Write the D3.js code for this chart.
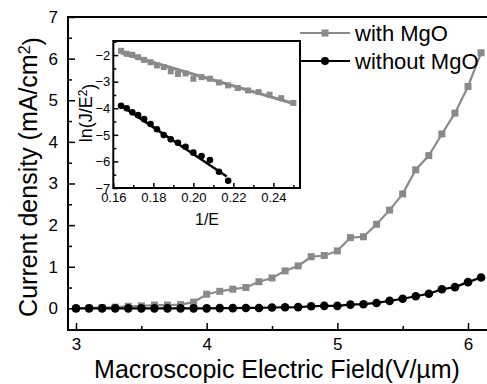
<!DOCTYPE html>
<html>
<head>
<meta charset="utf-8">
<script src="https://cdn.jsdelivr.net/npm/d3@7"></script>
<style>
  body { margin: 0; background: #fff; }
  svg { display: block; font-family: "Liberation Sans", Arial, sans-serif; }
  .axis .domain { display: none; }
  .axis line { stroke: #000; stroke-width: 1.5; }
  .axis text { fill: #000; }
</style>
</head>
<body>
<div id="chart"></div>
<script>
// main plot: current density vs field
const fieldE = [3.0, 3.1, 3.2, 3.3, 3.4, 3.5, 3.6, 3.7, 3.8, 3.9,
                4.0, 4.1, 4.2, 4.3, 4.4, 4.5, 4.6, 4.7, 4.8, 4.9,
                5.0, 5.1, 5.2, 5.3, 5.4, 5.5, 5.6, 5.7, 5.8, 5.9,
                6.0, 6.1];
const withMgO = [0.00, 0.01, 0.02, 0.03, 0.05, 0.06, 0.08, 0.08, 0.09, 0.15,
                 0.34, 0.41, 0.46, 0.50, 0.64, 0.73, 0.90, 1.02, 1.24, 1.27,
                 1.38, 1.70, 1.72, 2.02, 2.36, 2.75, 3.33, 3.67, 4.19, 4.69,
                 5.33, 6.14];
const withoutMgO = [0.00, 0.00, 0.00, 0.00, 0.00, 0.00, 0.00, 0.00, 0.00, 0.00,
                    0.00, 0.005, 0.005, 0.01, 0.01, 0.02, 0.025, 0.03, 0.05, 0.06,
                    0.06, 0.09, 0.10, 0.13, 0.18, 0.23, 0.29, 0.35, 0.46, 0.51,
                    0.63, 0.74];
const mainXTicks = [3, 4, 5, 6];
const mainXMinor = [3.5, 4.5, 5.5];
const mainYTicks = [0, 1, 2, 3, 4, 5, 6, 7];
const mainYMinor = [0.5, 1.5, 2.5, 3.5, 4.5, 5.5, 6.5];

// inset: F-N plot
const invEWith = [0.1639, 0.1667, 0.1695, 0.1724, 0.1754, 0.1786, 0.1818, 0.1852,
                  0.1887, 0.1923, 0.1961, 0.2000, 0.2041, 0.2083, 0.2128, 0.2174,
                  0.2222, 0.2273, 0.2326, 0.2381, 0.2439, 0.2500];
const lnWith = [-1.84, -1.95, -1.99, -2.08, -2.18, -2.27, -2.39, -2.45,
                -2.61, -2.71, -2.69, -2.89, -2.83, -2.89, -3.03, -3.14,
                -3.24, -3.33, -3.39, -3.49, -3.62, -3.80];
const invEWithout = [0.1639, 0.1667, 0.1695, 0.1724, 0.1754, 0.1786, 0.1818, 0.1852,
                     0.1887, 0.1923, 0.1961, 0.2000, 0.2041, 0.2083, 0.2128, 0.2174];
const lnWithout = [-3.91, -4.00, -4.15, -4.26, -4.41, -4.59, -4.79, -5.01,
                   -5.17, -5.30, -5.45, -5.67, -5.80, -5.95, -6.39, -6.73];
const fitWith = [[0.1639, -1.92], [0.2500, -3.82]];
const fitWithout = [[0.1639, -3.90], [0.2167, -6.57]];
const insetXTicks = [0.16, 0.18, 0.20, 0.22, 0.24];
const insetXMinor = [0.17, 0.19, 0.21, 0.23, 0.25];
const insetYTicks = [-7, -6, -5, -4, -3, -2];
const insetYMinor = [-6.5, -5.5, -4.5, -3.5, -2.5, -1.5];

const seriesNames = ["with MgO", "without MgO"];
const gray = "#8a8a8a";

const W = 487, H = 384;
const svg = d3.select("#chart").append("svg")
    .attr("width", W).attr("height", H);

// ---- main axes
const x = d3.scaleLinear().domain([2.9388, 6.153]).range([68, 488]);
const y = d3.scaleLinear().domain([-0.52, 7.0]).range([330, 17]);

svg.append("g").attr("class", "axis")
    .attr("transform", "translate(0,330)")
    .style("font-size", "17px")
    .call(d3.axisBottom(x).tickValues(mainXTicks).tickSize(-7).tickPadding(8).tickFormat(d3.format("d")));
svg.append("g").attr("class", "axis")
    .attr("transform", "translate(0,330)")
    .call(d3.axisBottom(x).tickValues(mainXMinor).tickSize(-4).tickFormat(""));
svg.append("g").attr("class", "axis")
    .attr("transform", "translate(68,0)")
    .style("font-size", "17px")
    .call(d3.axisLeft(y).tickValues(mainYTicks).tickSize(-7).tickPadding(10).tickFormat(d3.format("d")));
svg.append("g").attr("class", "axis")
    .attr("transform", "translate(68,0)")
    .call(d3.axisLeft(y).tickValues(mainYMinor).tickSize(-4).tickFormat(""));

svg.append("rect")
    .attr("x", 68).attr("y", 17)
    .attr("width", 430).attr("height", 313)
    .attr("fill", "none").attr("stroke", "#000").attr("stroke-width", 2);

const mainLine = d3.line().x(d => x(d[0])).y(d => y(d[1]));
const grayPts = fieldE.map((e, i) => [e, withMgO[i]]);
const blackPts = fieldE.map((e, i) => [e, withoutMgO[i]]);

svg.append("path").datum(grayPts)
    .attr("d", mainLine).attr("fill", "none")
    .attr("stroke", gray).attr("stroke-width", 2.2);
svg.selectAll(".sq").data(grayPts).enter().append("rect")
    .attr("x", d => x(d[0]) - 3.5).attr("y", d => y(d[1]) - 3.5)
    .attr("width", 7).attr("height", 7).attr("fill", gray);

svg.append("path").datum(blackPts)
    .attr("d", mainLine).attr("fill", "none")
    .attr("stroke", "#000").attr("stroke-width", 2.2);
svg.selectAll(".dot").data(blackPts).enter().append("circle")
    .attr("cx", d => x(d[0])).attr("cy", d => y(d[1]))
    .attr("r", 4.3).attr("fill", "#000");

// axis titles
svg.append("text")
    .attr("x", 277).attr("y", 378)
    .attr("text-anchor", "middle")
    .style("font-size", "25px")
    .text("Macroscopic Electric Field(V/\u00b5m)");

const yTitle = svg.append("text")
    .attr("transform", "translate(37,177) rotate(-90)")
    .attr("text-anchor", "middle")
    .style("font-size", "25px");
yTitle.append("tspan").text("Current density (mA/cm");
yTitle.append("tspan").attr("dy", "-0.45em").style("font-size", "16px").text("2");
yTitle.append("tspan").attr("dy", "0.45em").text(")");

// ---- inset
const ix = d3.scaleLinear().domain([0.16, 0.2533]).range([113.3, 300]);
const iy = d3.scaleLinear().domain([-7, -1.47]).range([188, 41]);

svg.append("rect")
    .attr("x", 113.3).attr("y", 41)
    .attr("width", 186.7).attr("height", 147)
    .attr("fill", "#fff");

svg.append("g").attr("class", "axis")
    .attr("transform", "translate(0,188)")
    .style("font-size", "13px")
    .call(d3.axisBottom(ix).tickValues(insetXTicks).tickSize(-5).tickPadding(5).tickFormat(d3.format(".2f")));
svg.append("g").attr("class", "axis")
    .attr("transform", "translate(0,188)")
    .call(d3.axisBottom(ix).tickValues(insetXMinor).tickSize(-3).tickFormat(""));
svg.append("g").attr("class", "axis")
    .attr("transform", "translate(113.3,0)")
    .style("font-size", "13px")
    .call(d3.axisLeft(iy).tickValues(insetYTicks).tickSize(-5).tickPadding(3).tickFormat(d3.format("d")));
svg.append("g").attr("class", "axis")
    .attr("transform", "translate(113.3,0)")
    .call(d3.axisLeft(iy).tickValues(insetYMinor).tickSize(-3).tickFormat(""));

svg.append("rect")
    .attr("x", 113.3).attr("y", 41)
    .attr("width", 186.7).attr("height", 147)
    .attr("fill", "none").attr("stroke", "#000").attr("stroke-width", 2);

const insetLine = d3.line().x(d => ix(d[0])).y(d => iy(d[1]));

svg.selectAll(".isq").data(invEWith.map((u, i) => [u, lnWith[i]])).enter().append("rect")
    .attr("x", d => ix(d[0]) - 3).attr("y", d => iy(d[1]) - 3)
    .attr("width", 6).attr("height", 6).attr("fill", gray);
svg.append("path").datum(fitWith)
    .attr("d", insetLine).attr("stroke", gray).attr("stroke-width", 3);

svg.selectAll(".idot").data(invEWithout.map((u, i) => [u, lnWithout[i]])).enter().append("circle")
    .attr("cx", d => ix(d[0])).attr("cy", d => iy(d[1]))
    .attr("r", 3.3).attr("fill", "#000");
svg.append("path").datum(fitWithout)
    .attr("d", insetLine).attr("stroke", "#000").attr("stroke-width", 2.5);

svg.append("text")
    .attr("x", 207).attr("y", 225)
    .attr("text-anchor", "middle")
    .style("font-size", "16px")
    .text("1/E");

const iyTitle = svg.append("text")
    .attr("transform", "translate(92,113) rotate(-90)")
    .attr("text-anchor", "middle")
    .style("font-size", "18px");
iyTitle.append("tspan").text("ln(J/E");
iyTitle.append("tspan").attr("dy", "-0.45em").style("font-size", "12px").text("2");
iyTitle.append("tspan").attr("dy", "0.45em").text(")");

// ---- legend
const legend = svg.append("g");
[gray, "#000"].forEach((c, i) => {
    const ly = 33 + i * 28;
    legend.append("line")
        .attr("x1", 300).attr("x2", 350).attr("y1", ly).attr("y2", ly)
        .attr("stroke", c).attr("stroke-width", 2);
    if (i === 0) {
        legend.append("rect").attr("x", 321.5).attr("y", ly - 3.5)
            .attr("width", 7).attr("height", 7).attr("fill", c);
    } else {
        legend.append("circle").attr("cx", 325).attr("cy", ly).attr("r", 4).attr("fill", c);
    }
    legend.append("text")
        .attr("x", 355).attr("y", ly + 8)
        .style("font-size", "22px")
        .text(seriesNames[i]);
});
</script>
</body>
</html>
